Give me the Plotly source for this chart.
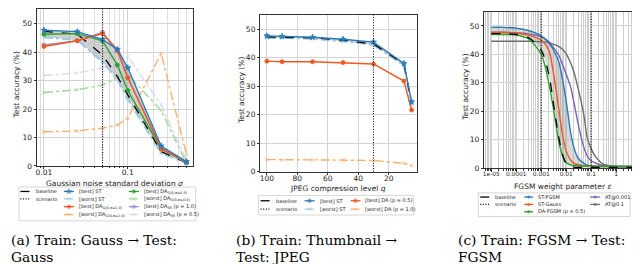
import plotly.graph_objects as go

W, H = 640, 264

# ---------------- Panel (a): Gauss -> Gauss ----------------
sigma = [0.01, 0.025, 0.05, 0.075, 0.1, 0.25, 0.5]
a_baseline = [47.3, 46.3, 39.0, 31.5, 25.0, 5.0, 1.2]
a_best_st = [47.7, 47.2, 44.5, 41.0, 34.5, 7.0, 1.5]
a_worst_st = [45.3, 44.3, 36.5, 30.5, 23.5, 4.5, 1.0]
a_best_dag10 = [42.0, 44.0, 46.5, 40.5, 31.0, 6.0, 1.5]
a_worst_dag10 = [12.0, 12.3, 13.3, 14.4, 16.8, 39.5, 4.0]
a_best_dag05 = [46.3, 46.5, 44.0, 35.5, 26.5, 6.0, 1.3]
a_worst_dag05 = [25.8, 26.8, 28.4, 31.0, 32.0, 19.5, 1.0]
a_best_dass = [42.5, 44.0, 47.0, 40.8, 31.0, 6.5, 1.0]
a_worst_dass = [31.8, 32.7, 34.5, 36.5, 38.5, 21.5, 2.0]
a_scenario = [0.05]

# ---------------- Panel (b): Thumbnail -> JPEG ----------------
q = [100, 90, 70, 50, 30, 10, 5]
b_baseline = [47.3, 47.2, 47.0, 46.2, 44.8, 37.8, 24.0]
b_best_st = [47.7, 47.5, 47.2, 46.5, 45.5, 38.0, 24.5]
b_worst_st = [47.0, 47.0, 46.7, 45.8, 44.6, 37.3, 23.2]
b_best_da = [38.8, 38.6, 38.6, 38.3, 37.8, 31.8, 21.6]
b_worst_da = [4.2, 4.1, 4.1, 4.0, 3.9, 2.9, 2.1]
b_scenario = [30]

# ---------------- Panel (c): FGSM -> FGSM ----------------
eps = [1e-5, 3e-5, 1e-4, 3e-4, 1e-3, 2e-3, 3e-3, 5e-3, 7e-3, 1e-2, 1.5e-2, 2e-2,
       3e-2, 5e-2, 7e-2, 0.1, 0.15, 0.2, 0.3, 0.5, 1, 2, 5]
c_baseline = [47.3, 47.3, 47.0, 46.0, 41.5, 33.0, 23.5, 11.0, 5.0, 1.5, 0.6, 0.4,
              0.3, 0.3, 0.3, 0.3, 0.3, 0.3, 0.3, 0.3, 0.3, 0.3, 0.3]
c_st_fgsm = [49.5, 49.5, 49.2, 48.4, 46.5, 44.0, 41.8, 37.5, 31.5, 23.5, 12.5, 7.5,
             3.5, 1.8, 1.1, 0.8, 0.7, 0.6, 0.6, 0.6, 0.6, 0.6, 0.6]
c_st_gauss = [47.7, 47.7, 47.5, 46.8, 45.0, 41.5, 34.0, 21.0, 12.0, 6.0, 2.8, 1.8,
              1.2, 0.9, 0.8, 0.7, 0.7, 0.6, 0.6, 0.6, 0.6, 0.6, 0.6]
c_da_fgsm = [47.0, 47.0, 46.8, 45.5, 40.0, 30.0, 21.5, 9.5, 4.5, 2.0, 1.2, 1.0,
             0.9, 0.8, 0.8, 0.8, 0.7, 0.7, 0.7, 0.7, 0.7, 0.7, 0.7]
c_at001 = [47.8, 47.8, 47.6, 47.2, 46.2, 44.5, 42.5, 39.8, 36.5, 33.0, 28.5, 23.5,
           15.5, 7.5, 4.2, 2.6, 1.8, 1.4, 1.0, 0.8, 0.6, 0.5, 0.5]
c_at01 = [44.6, 44.6, 44.6, 44.6, 44.5, 44.2, 43.6, 42.8, 41.8, 40.2, 37.0, 34.0,
          28.0, 19.0, 10.5, 6.8, 4.0, 2.8, 1.4, 0.9, 0.6, 0.5, 0.5]
c_scenario = [0.001, 0.1]

y_ticks = [0, 10, 20, 30, 40, 50]

# colours
BLUE, LBLUE = "#2b7bba", "#9ecae1"
ORANGE, LORANGE = "#f0581f", "#fdae6b"
GREEN, LGREEN = "#2ca02c", "#a1d99b"
PURPLE, LPURPLE = "#9e90cc", "#dcd7ee"
C_PURPLE, C_GRAY = "#7b62b8", "#6e6e6e"
BAND = "rgba(150,150,150,0.45)"
DOT = "1px,1.6px"

fig = go.Figure()


def px_x(p):
    return p / W


def px_y(p):
    return 1 - p / H


def dom_x(a, b):
    return [a / W, b / W]


def dom_y(top, bot):
    return [1 - bot / H, 1 - top / H]


# ---------- panel a traces ----------
fig.add_trace(go.Scatter(x=sigma, y=a_worst_st, mode="lines", line=dict(width=0),
                         xaxis="x", yaxis="y", hoverinfo="skip"))
fig.add_trace(go.Scatter(x=sigma, y=a_best_st, mode="lines", line=dict(width=0),
                         fill="tonexty", fillcolor=BAND, xaxis="x", yaxis="y"))


def series(x, y, color, dash, symbol, size, xa, ya, width=1.4):
    fig.add_trace(go.Scatter(
        x=x, y=y, mode="lines+markers", xaxis=xa, yaxis=ya,
        line=dict(color=color, width=width, dash=dash),
        marker=dict(symbol=symbol, size=size, color=color,
                    line=dict(width=0.8, color=color))))


series(sigma, a_worst_dass, LPURPLE, "dashdot", "x-thin", 3.5, "x", "y")
series(sigma, a_worst_dag05, LGREEN, "dashdot", "x-thin", 3.5, "x", "y")
series(sigma, a_worst_dag10, LORANGE, "dashdot", "x-thin", 3.5, "x", "y")
series(sigma, a_worst_st, LBLUE, "dashdot", "x-thin", 3.5, "x", "y", width=2.2)
fig.add_trace(go.Scatter(x=sigma, y=a_baseline, mode="lines", xaxis="x", yaxis="y",
                         line=dict(color="black", width=1.3, dash="dash")))
series(sigma, a_best_dass, PURPLE, "solid", "circle", 4, "x", "y")
series(sigma, a_best_dag05, GREEN, "solid", "circle", 4, "x", "y")
series(sigma, a_best_dag10, ORANGE, "solid", "circle", 4, "x", "y")
series(sigma, a_best_st, BLUE, "solid", "star", 4.5, "x", "y")

# ---------- panel b traces ----------
fig.add_trace(go.Scatter(x=q, y=b_worst_st, mode="lines", line=dict(width=0),
                         xaxis="x2", yaxis="y2", hoverinfo="skip"))
fig.add_trace(go.Scatter(x=q, y=b_best_st, mode="lines", line=dict(width=0),
                         fill="tonexty", fillcolor=BAND, xaxis="x2", yaxis="y2"))
series(q, b_worst_da, LORANGE, "dashdot", "x-thin", 3.5, "x2", "y2")
series(q, b_worst_st, LBLUE, "dashdot", "x-thin", 3.5, "x2", "y2", width=2.2)
fig.add_trace(go.Scatter(x=q, y=b_baseline, mode="lines", xaxis="x2", yaxis="y2",
                         line=dict(color="black", width=1.3, dash="dash")))
series(q, b_best_da, ORANGE, "solid", "circle", 4, "x2", "y2")
series(q, b_best_st, BLUE, "solid", "star", 4.5, "x2", "y2")

# ---------- panel c traces ----------
fig.add_trace(go.Scatter(x=eps, y=c_baseline, mode="lines",
                         line=dict(width=0, shape="spline"),
                         xaxis="x3", yaxis="y3", hoverinfo="skip"))
fig.add_trace(go.Scatter(x=eps, y=c_st_fgsm, mode="lines",
                         line=dict(width=0, shape="spline"),
                         fill="tonexty", fillcolor="rgba(160,160,160,0.4)",
                         xaxis="x3", yaxis="y3"))


def cline(y, color, dash="solid", width=1.4):
    fig.add_trace(go.Scatter(x=eps, y=y, mode="lines", xaxis="x3", yaxis="y3",
                             line=dict(color=color, width=width, dash=dash,
                                       shape="spline", smoothing=0.8)))


cline(c_at01, C_GRAY)
cline(c_at001, C_PURPLE)
cline(c_st_fgsm, BLUE)
cline(c_st_gauss, ORANGE)
cline(c_da_fgsm, GREEN)
cline(c_baseline, "black", "dash", 1.3)

# ---------- axes ----------
common = dict(showline=True, linecolor="#333", linewidth=0.8, mirror=True,
              ticks="outside", ticklen=2.5, tickwidth=0.8, tickcolor="#333",
              showgrid=True, gridcolor="#d4d4d4", gridwidth=0.8, zeroline=False,
              tickfont=dict(size=7.5, color="#222"))
xcommon = dict(common, ticklabelstandoff=-3, tickangle=0)

a_minor = [0.009] + [k * 0.01 for k in range(2, 10)] + [k * 0.1 for k in range(2, 6)]
c_minor = [k * 10.0 ** e for e in range(-6, 1) for k in range(2, 10)]

fig.update_layout(
    xaxis=dict(**xcommon, type="log", range=[-2.083, -0.226],
               tickvals=[0.01, 0.1], ticktext=["0.01", "0.1"],
               minor=dict(tickvals=a_minor, showgrid=True, gridcolor="#dedede",
                          ticks="outside", ticklen=1.5, tickcolor="#333"),
               domain=dom_x(28, 184), anchor="y"),
    yaxis=dict(**common, range=[0, 55], tickvals=y_ticks,
               domain=dom_y(1.5, 161), anchor="x"),
    xaxis2=dict(**xcommon, range=[104.3, 1.2], tickvals=[100, 80, 60, 40, 20],
                domain=dom_x(251.7, 409), anchor="y2"),
    yaxis2=dict(**common, range=[0, 55], tickvals=y_ticks,
                domain=dom_y(7.2, 166.7), anchor="x2"),
    xaxis3=dict(**xcommon, type="log", range=[-5.28, 0.98],
                tickvals=[1e-5, 1e-4, 1e-3, 1e-2, 0.1, 1],
                ticktext=["1e-05", "0.0001", "0.001", "0.01", "0.1", "1"],
                minor=dict(tickvals=c_minor, showgrid=True, gridcolor="#cdcdcd",
                           ticks="outside", ticklen=1.5, tickcolor="#333"),
                domain=dom_x(476, 632.7), anchor="y3"),
    yaxis3=dict(**common, range=[0, 55], tickvals=y_ticks,
                domain=dom_y(3.8, 163.3), anchor="x3"),
    xaxis4=dict(range=[0, W], domain=[0, 1], visible=False, anchor="y4"),
    yaxis4=dict(range=[H, 0], domain=[0, 1], visible=False, anchor="x4"),
)
fig.layout.xaxis3.tickfont = dict(size=5.9, color="#222")

shapes = []
for v in a_scenario:
    shapes.append(dict(type="line", xref="x", yref="y domain", x0=v, x1=v, y0=0, y1=1,
                       line=dict(color="black", width=1.1, dash=DOT)))
for v in b_scenario:
    shapes.append(dict(type="line", xref="x2", yref="y2 domain", x0=v, x1=v, y0=0, y1=1,
                       line=dict(color="black", width=1.1, dash=DOT)))
for v in c_scenario:
    shapes.append(dict(type="line", xref="x3", yref="y3 domain", x0=v, x1=v, y0=0, y1=1,
                       line=dict(color="black", width=1.1, dash=DOT)))

# legend boxes
for (x0, y0, x1, y1) in [(10, 182.5, 187, 217), (250, 191, 405, 211), (470, 188.5, 622, 212.5)]:
    shapes.append(dict(type="rect", xref="paper", yref="paper",
                       x0=px_x(x0), x1=px_x(x1), y0=px_y(y1), y1=px_y(y0),
                       line=dict(color="#cccccc", width=0.8), fillcolor="white",
                       layer="below"))

annotations = []


def leg(gx0, gx1, tx, py, text, color, dash="solid", symbol=None, msize=0, width=1.3):
    if symbol:
        fig.add_trace(go.Scatter(
            x=[gx0, (gx0 + gx1) / 2, gx1], y=[py] * 3, mode="lines+markers",
            xaxis="x4", yaxis="y4", line=dict(color=color, width=width, dash=dash),
            marker=dict(symbol=symbol, size=[0, msize, 0], color=color,
                        line=dict(width=0.8, color=color))))
    else:
        fig.add_trace(go.Scatter(
            x=[gx0, gx1], y=[py] * 2, mode="lines", xaxis="x4", yaxis="y4",
            line=dict(color=color, width=width, dash=dash)))
    annotations.append(dict(x=px_x(tx), y=px_y(py), xref="paper", yref="paper",
                            text=text, showarrow=False, xanchor="left", yanchor="middle",
                            font=dict(size=5, color="#222")))


# legend (a)
ra = [187, 194.5, 202.5, 210.5]
leg(11.5, 21, 25, ra[0], "baseline", "black", "dash")
leg(11.5, 21, 25, ra[1], "scenario", "black", DOT)
leg(55, 65, 68, ra[0], "[best] ST", BLUE, "solid", "star", 4)
leg(55, 65, 68, ra[1], "[worst] ST", LBLUE, "dashdot", "x-thin", 3.5)
leg(55, 65, 68, ra[2], "[best] DA<sub>G(0,σ=1.0)</sub>", ORANGE, "solid", "circle", 3.5)
leg(55, 65, 68, ra[3], "[worst] DA<sub>G(0,σ=1.0)</sub>", LORANGE, "dashdot", "x-thin", 3.5)
leg(120, 130, 133, ra[0], "[best] DA<sub>G(0,σ=0.5)</sub>", GREEN, "solid", "circle", 3.5)
leg(120, 130, 133, ra[1], "[worst] DA<sub>G(0,σ=0.5)</sub>", LGREEN, "dashdot", "x-thin", 3.5)
leg(120, 130, 133, ra[2], "[best] DA<sub>SS</sub> (p = 1.0)", PURPLE, "solid", "circle", 3.5)
leg(120, 130, 133, ra[3], "[worst] DA<sub>SS</sub> (p = 0.5)", LPURPLE, "dashdot", "x-thin", 3.5)

# legend (b)
rb = [196.5, 205]
leg(252, 262, 265, rb[0], "baseline", "black", "dash")
leg(252, 262, 265, rb[1], "scenario", "black", DOT)
leg(296, 306, 309, rb[0], "[best] ST", BLUE, "solid", "circle", 3.5)
leg(296, 306, 309, rb[1], "[worst] ST", LBLUE, "dashdot", "x-thin", 3.5)
leg(342, 352, 355, rb[0], "[best] DA (p = 0.5)", ORANGE, "solid", "circle", 3.5)
leg(342, 352, 355, rb[1], "[worst] DA (p = 1.0)", LORANGE, "dashdot", "x-thin", 3.5)

# legend (c)
rc = [192.7, 200.2, 207.7]
leg(472, 482, 485, rc[0], "baseline", "black", "dash")
leg(472, 482, 485, rc[1], "scenario", "black", DOT)
leg(516, 525, 528, rc[0], "ST-FGSM", BLUE, "solid", "circle", 2.5)
leg(516, 525, 528, rc[1], "ST-Gauss", ORANGE, "solid", "circle", 2.5)
leg(516, 525, 528, rc[2], "DA-FGSM (p = 0.5)", GREEN, "solid", "circle", 2.5)
leg(582, 592, 595, rc[0], "AT@0.001", C_PURPLE, "solid", "circle", 2.5)
leg(582, 592, 595, rc[1], "AT@0.1", C_GRAY, "solid", "circle", 2.5)


# axis titles
def txt(x, y, text, size=7.5, angle=0, xanchor="center", family=None, color="#222"):
    f = dict(size=size, color=color)
    if family:
        f["family"] = family
    annotations.append(dict(x=px_x(x), y=px_y(y), xref="paper", yref="paper", text=text,
                            showarrow=False, xanchor=xanchor, yanchor="middle",
                            textangle=angle, font=f))


txt(106, 178.5, "Gaussian noise standard deviation <i>σ</i>")
txt(330, 183.5, "JPEG compression level <i>q</i>")
txt(554, 182, "FGSM weight parameter <i>ε</i>")
txt(8, 78, "Test accuracy (%)", angle=-90)
txt(233, 84, "Test accuracy (%)", angle=-90)
txt(457, 81, "Test accuracy (%)", angle=-90)

# captions
SERIF = "DejaVu Serif"
CS = 13.8
txt(0, 236, "(a) Train: Gauss → Test:", CS, xanchor="left", family=SERIF, color="black")
txt(0, 254, "Gauss", CS, xanchor="left", family=SERIF, color="black")
txt(225, 236, "(b) Train: Thumbnail →", CS, xanchor="left", family=SERIF, color="black")
txt(225, 254, "Test: JPEG", CS, xanchor="left", family=SERIF, color="black")
txt(448, 236, "(c) Train: FGSM → Test:", CS, xanchor="left", family=SERIF, color="black")
txt(448, 254, "FGSM", CS, xanchor="left", family=SERIF, color="black")

fig.update_layout(
    width=W, height=H, margin=dict(l=0, r=0, t=0, b=0),
    paper_bgcolor="white", plot_bgcolor="rgba(0,0,0,0)", showlegend=False,
    font=dict(family="DejaVu Sans", size=7.5, color="#222"),
    shapes=shapes, annotations=annotations,
)

fig.write_html("out.html")
